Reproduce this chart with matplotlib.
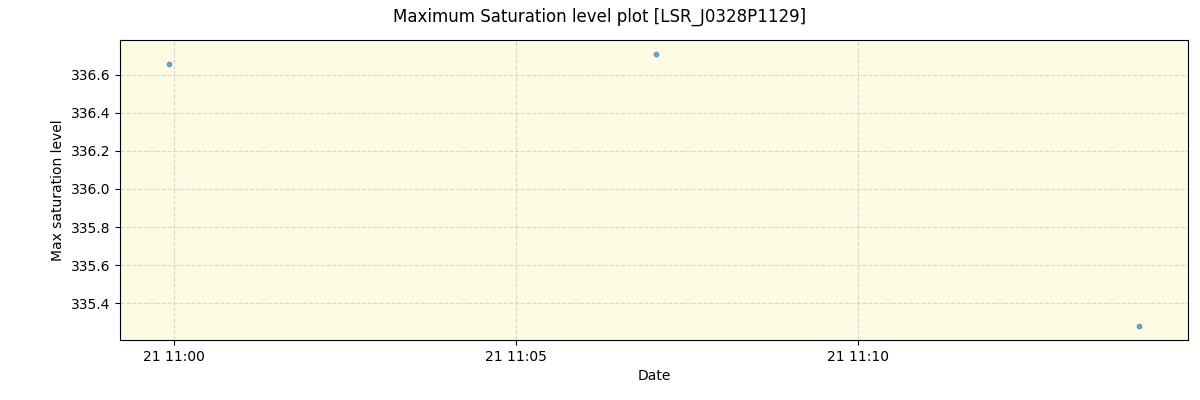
import pandas as pd
import matplotlib
matplotlib.use('Agg')
import matplotlib.pyplot as plt

times = pd.to_datetime(['2021-06-21 10:59:55', '2021-06-21 11:07:03', '2021-06-21 11:14:07'])
levels = [336.653, 336.710, 335.279]

fig, ax = plt.subplots(figsize=(12, 4), dpi=100)
fig.subplots_adjust(left=0.1, right=0.99, top=0.9, bottom=0.15)
ax.set_facecolor('#fdfbe2')
ax.scatter(times, levels, s=10, color='#1f77b4', alpha=0.6, zorder=3)
ax.grid(color='lightgray', linestyle='--', alpha=0.9)
ax.set_xlabel('Date')
ax.set_ylabel('Max saturation level')
fig.suptitle('Maximum Saturation level plot [LSR_J0328P1129]')
fig.savefig('out.png')
